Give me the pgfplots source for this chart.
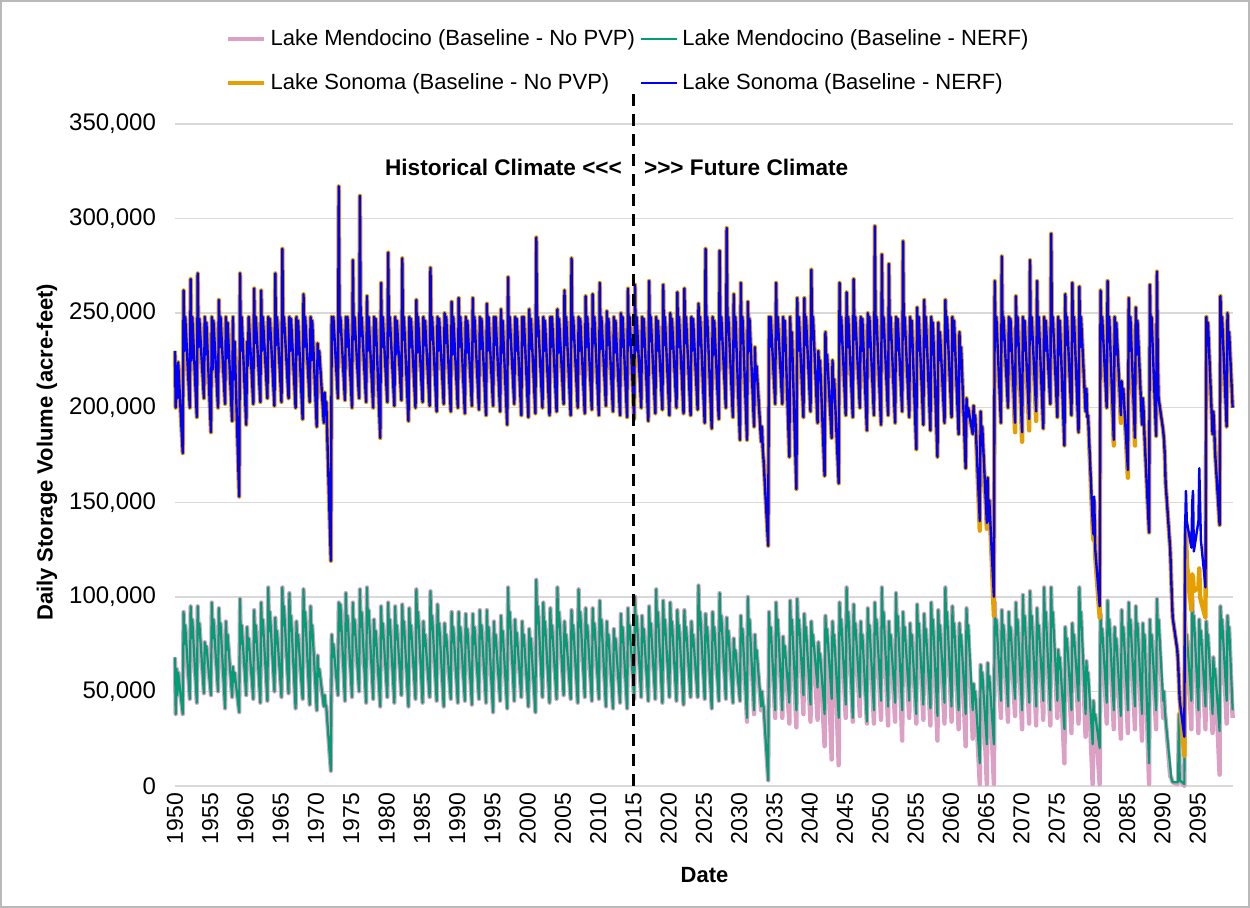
\documentclass[border=0pt]{standalone}
\usepackage{fontspec}
\setmainfont{Liberation Sans}
\usepackage{pgfplots}
\usepackage{pgfplotstable}
\pgfplotsset{compat=1.18}
\definecolor{mpink}{HTML}{DCA0C5}
\definecolor{mgreen}{HTML}{009E73}
\definecolor{sorange}{HTML}{E69F00}
\definecolor{sblue}{HTML}{0000FF}
\definecolor{gridgray}{HTML}{D9D9D9}
% values in thousands of acre-feet; t = decimal year
\pgfplotstableread{
t S0 S1 M0 M1
1950.00 230 230 68 68
1950.10 200 200 38 38
1950.22 222 222 62 62
1950.33 205 205 48 48
1950.45 224 224 60 60
1951.10 176 176 38 38
1951.22 262 262 92 92
1951.33 230 230 75 75
1951.45 248 248 85 85
1952.10 200 200 46 46
1952.22 268 268 95 95
1952.33 225 225 78 78
1952.45 248 248 88 88
1953.10 195 195 44 44
1953.22 271 271 95 95
1953.33 232 232 80 80
1953.45 247 247 86 86
1954.10 205 205 49 49
1954.22 248 248 76 76
1954.33 228 228 70 70
1954.45 245 245 74 74
1955.10 187 187 48 48
1955.22 248 248 97 97
1955.33 220 220 78 78
1955.45 246 246 88 88
1956.10 200 200 50 50
1956.22 257 257 94 94
1956.33 232 232 80 80
1956.45 248 248 86 86
1957.10 202 202 41 41
1957.22 248 248 87 87
1957.33 226 226 72 72
1957.45 245 245 80 80
1958.10 193 193 47 47
1958.22 248 248 63 63
1958.33 215 215 55 55
1958.45 235 235 60 60
1959.10 153 153 39 39
1959.22 271 271 99 99
1959.33 230 230 75 75
1959.45 248 248 85 85
1960.10 191 191 48 48
1960.22 235 235 84 84
1960.33 222 222 72 72
1960.45 248 248 78 78
1961.10 202 202 46 46
1961.22 263 263 93 93
1961.33 234 234 76 76
1961.45 248 248 85 85
1962.10 203 203 44 44
1962.22 262 262 97 97
1962.33 230 230 80 80
1962.45 248 248 88 88
1963.10 205 205 45 45
1963.22 248 248 105 105
1963.33 236 236 82 82
1963.45 247 247 92 92
1964.10 201 201 50 50
1964.22 271 271 89 89
1964.33 233 233 75 75
1964.45 248 248 82 82
1965.10 203 203 47 47
1965.22 284 284 105 105
1965.33 240 240 85 85
1965.45 248 248 95 95
1966.10 205 205 49 49
1966.22 248 248 102 102
1966.33 230 230 82 82
1966.45 247 247 90 90
1967.10 200 200 41 41
1967.22 248 248 87 87
1967.33 228 228 74 74
1967.45 246 246 80 80
1968.10 194 194 46 46
1968.22 260 260 104 104
1968.33 232 232 84 84
1968.45 248 248 92 92
1969.10 203 203 43 43
1969.22 248 248 95 95
1969.33 225 225 78 78
1969.45 246 246 85 85
1970.10 190 190 40 40
1970.22 234 234 69 69
1970.33 222 222 58 58
1970.45 230 230 62 62
1971.10 192 192 42 42
1971.22 208 208 48 48
1971.33 200 200 43 43
1971.45 203 203 42 42
1972.10 119 119 8 8
1972.22 248 248 80 80
1972.33 236 236 68 68
1972.45 248 248 75 75
1973.10 205 205 48 48
1973.22 317 317 97 97
1973.33 240 240 82 82
1973.45 248 248 96 96
1974.10 204 204 45 45
1974.22 248 248 102 102
1974.33 232 232 82 82
1974.45 248 248 90 90
1975.10 200 200 47 47
1975.22 278 278 97 97
1975.33 236 236 80 80
1975.45 248 248 88 88
1976.10 205 205 50 50
1976.22 312 312 104 104
1976.33 238 238 84 84
1976.45 248 248 92 92
1977.10 203 203 44 44
1977.22 259 259 105 105
1977.33 230 230 85 85
1977.45 248 248 93 93
1978.10 200 200 46 46
1978.22 248 248 88 88
1978.33 233 233 74 74
1978.45 247 247 82 82
1979.10 184 184 42 42
1979.22 266 266 95 95
1979.33 232 232 78 78
1979.45 248 248 86 86
1980.10 203 203 47 47
1980.22 282 282 97 97
1980.33 238 238 80 80
1980.45 248 248 88 88
1981.10 201 201 44 44
1981.22 248 248 95 95
1981.33 228 228 78 78
1981.45 246 246 85 85
1982.10 204 204 48 48
1982.22 279 279 96 96
1982.33 236 236 80 80
1982.45 248 248 87 87
1983.10 193 193 42 42
1983.22 248 248 94 94
1983.33 232 232 78 78
1983.45 247 247 85 85
1984.10 200 200 46 46
1984.22 257 257 104 104
1984.33 229 229 84 84
1984.45 248 248 92 92
1985.10 203 203 44 44
1985.22 248 248 87 87
1985.33 233 233 74 74
1985.45 246 246 80 80
1986.10 201 201 47 47
1986.22 274 274 103 103
1986.33 236 236 83 83
1986.45 248 248 90 90
1987.10 198 198 45 45
1987.22 248 248 96 96
1987.33 230 230 80 80
1987.45 247 247 86 86
1988.10 202 202 42 42
1988.22 250 250 86 86
1988.33 234 234 74 74
1988.45 248 248 80 80
1989.10 198 198 46 46
1989.22 256 256 92 92
1989.33 228 228 76 76
1989.45 248 248 84 84
1990.10 200 200 44 44
1990.22 258 258 92 92
1990.33 232 232 77 77
1990.45 248 248 84 84
1991.10 197 197 45 45
1991.22 248 248 91 91
1991.33 229 229 76 76
1991.45 246 246 83 83
1992.10 201 201 43 43
1992.22 258 258 91 91
1992.33 235 235 75 75
1992.45 248 248 84 84
1993.10 199 199 46 46
1993.22 248 248 93 93
1993.33 231 231 78 78
1993.45 247 247 85 85
1994.10 196 196 44 44
1994.22 255 255 93 93
1994.33 230 230 77 77
1994.45 248 248 84 84
1995.10 201 201 39 39
1995.22 248 248 87 87
1995.33 233 233 74 74
1995.45 248 248 80 80
1996.10 198 198 45 45
1996.22 252 252 90 90
1996.33 229 229 76 76
1996.45 246 246 82 82
1997.10 191 191 41 41
1997.22 269 269 105 105
1997.33 237 237 84 84
1997.45 248 248 92 92
1998.10 202 202 45 45
1998.22 248 248 88 88
1998.33 230 230 74 74
1998.45 247 247 81 81
1999.10 196 196 47 47
1999.22 248 248 87 87
1999.33 233 233 74 74
1999.45 248 248 80 80
2000.10 195 195 42 42
2000.22 252 252 83 83
2000.33 231 231 72 72
2000.45 247 247 78 78
2001.10 197 197 39 39
2001.22 290 290 109 109
2001.33 238 238 86 86
2001.45 248 248 95 95
2002.10 200 200 47 47
2002.22 248 248 97 97
2002.33 230 230 80 80
2002.45 246 246 87 87
2003.10 196 196 44 44
2003.22 248 248 94 94
2003.33 232 232 78 78
2003.45 248 248 85 85
2004.10 198 198 46 46
2004.22 252 252 105 105
2004.33 229 229 84 84
2004.45 247 247 92 92
2005.10 202 202 48 48
2005.22 262 262 87 87
2005.33 233 233 74 74
2005.45 248 248 80 80
2006.10 196 196 46 46
2006.22 279 279 93 93
2006.33 236 236 78 78
2006.45 248 248 85 85
2007.10 200 200 44 44
2007.22 248 248 104 104
2007.33 230 230 84 84
2007.45 247 247 92 92
2008.10 197 197 47 47
2008.22 259 259 94 94
2008.33 232 232 78 78
2008.45 248 248 85 85
2009.10 199 199 45 45
2009.22 260 260 94 94
2009.33 234 234 79 79
2009.45 248 248 86 86
2010.10 196 196 46 46
2010.22 266 266 98 98
2010.33 231 231 80 80
2010.45 248 248 88 88
2011.10 201 201 42 42
2011.22 251 251 87 87
2011.33 233 233 74 74
2011.45 247 247 80 80
2012.10 198 198 41 41
2012.22 248 248 83 83
2012.33 229 229 72 72
2012.45 246 246 78 78
2013.10 196 196 44 44
2013.22 250 250 91 91
2013.33 232 232 76 76
2013.45 248 248 84 84
2014.10 195 195 41 41
2014.22 263 263 94 94
2014.33 233 233 78 78
2014.45 248 248 85 85
2015.10 194 194 46 46
2015.22 265 265 100 100
2015.33 230 230 82 82
2015.45 248 248 90 90
2016.10 200 200 47 47
2016.22 248 248 90 90
2016.33 232 232 76 76
2016.45 247 247 83 83
2017.10 193 193 45 45
2017.22 267 267 95 95
2017.33 235 235 79 79
2017.45 248 248 86 86
2018.10 197 197 46 46
2018.22 248 248 104 104
2018.33 230 230 84 84
2018.45 246 246 92 92
2019.10 199 199 44 44
2019.22 265 265 98 98
2019.33 233 233 80 80
2019.45 248 248 88 88
2020.10 196 196 47 47
2020.22 250 250 97 97
2020.33 231 231 80 80
2020.45 247 247 87 87
2021.10 200 200 45 45
2021.22 261 261 93 93
2021.33 232 232 78 78
2021.45 248 248 85 85
2022.10 197 197 43 43
2022.22 263 263 93 93
2022.33 234 234 77 77
2022.45 248 248 84 84
2023.10 196 196 47 47
2023.22 248 248 87 87
2023.33 230 230 74 74
2023.45 247 247 80 80
2024.10 199 199 47 47
2024.22 255 255 106 106
2024.33 233 233 85 85
2024.45 248 248 92 92
2025.10 192 192 46 46
2025.22 284 284 91 91
2025.33 238 238 77 77
2025.45 248 248 84 84
2026.10 189 189 41 41
2026.22 248 248 92 92
2026.33 228 228 77 77
2026.45 246 246 84 84
2027.10 194 194 45 45
2027.22 283 283 102 102
2027.33 236 236 82 82
2027.45 248 248 90 90
2028.10 200 200 46 46
2028.22 295 295 89 89
2028.33 240 240 75 75
2028.45 248 248 82 82
2029.10 195 195 44 44
2029.22 260 260 78 78
2029.33 232 232 68 68
2029.45 248 248 72 72
2030.10 183 183 45 45
2030.22 266 266 90 90
2030.33 234 234 76 76
2030.45 248 248 83 83
2031.10 183 183 34 36
2031.22 256 256 100 100
2031.33 230 230 80 80
2031.45 247 247 88 88
2032.10 190 190 38 40
2032.22 232 232 80 80
2032.33 215 215 68 68
2032.45 222 222 72 72
2033.10 182 182 40 42
2033.22 190 190 50 50
2033.33 178 178 44 44
2033.45 172 172 42 42
2034.10 127 127 3 3
2034.22 248 248 92 92
2034.33 232 232 76 76
2034.45 248 248 84 84
2035.10 202 202 36 40
2035.22 266 266 97 97
2035.33 236 236 80 80
2035.45 248 248 88 88
2036.10 202 202 36 40
2036.22 248 248 79 79
2036.33 230 230 68 68
2036.45 246 246 74 74
2037.10 174 174 33 44
2037.22 248 248 98 98
2037.33 225 225 80 80
2037.45 240 240 88 88
2038.10 157 157 31 40
2038.22 258 258 99 99
2038.33 230 230 80 80
2038.45 248 248 88 88
2039.10 195 195 38 48
2039.22 258 258 91 91
2039.33 233 233 77 77
2039.45 248 248 84 84
2040.10 198 198 34 43
2040.22 273 273 87 87
2040.33 236 236 74 74
2040.45 248 248 80 80
2041.10 192 192 35 52
2041.22 230 230 76 76
2041.33 215 215 66 66
2041.45 225 225 70 70
2042.10 164 164 21 38
2042.22 240 240 90 90
2042.33 220 220 76 76
2042.45 228 228 83 83
2043.10 184 184 14 46
2043.22 225 225 87 87
2043.33 205 205 74 74
2043.45 215 215 80 80
2044.10 160 160 11 36
2044.22 266 266 97 97
2044.33 235 235 80 80
2044.45 248 248 88 88
2045.10 196 196 36 43
2045.22 261 261 105 105
2045.33 232 232 84 84
2045.45 248 248 92 92
2046.10 195 195 34 36
2046.22 268 268 96 96
2046.33 236 236 80 80
2046.45 248 248 86 86
2047.10 200 200 37 47
2047.22 248 248 87 87
2047.33 230 230 74 74
2047.45 247 247 80 80
2048.10 188 188 33 34
2048.22 250 250 94 94
2048.33 232 232 78 78
2048.45 248 248 85 85
2049.10 196 196 33 40
2049.22 296 296 97 97
2049.33 240 240 80 80
2049.45 248 248 88 88
2050.10 191 191 35 45
2050.22 281 281 105 105
2050.33 237 237 84 84
2050.45 248 248 92 92
2051.10 196 196 32 42
2051.22 276 276 87 87
2051.33 236 236 74 74
2051.45 248 248 80 80
2052.10 192 192 34 44
2052.22 248 248 102 102
2052.33 230 230 82 82
2052.45 247 247 90 90
2053.10 198 198 24 40
2053.22 288 288 92 92
2053.33 238 238 77 77
2053.45 248 248 84 84
2054.10 195 195 36 45
2054.22 248 248 86 86
2054.33 232 232 74 74
2054.45 246 246 80 80
2055.10 178 178 33 38
2055.22 253 253 96 96
2055.33 230 230 80 80
2055.45 248 248 86 86
2056.10 191 191 35 43
2056.22 257 257 91 91
2056.33 232 232 76 76
2056.45 248 248 83 83
2057.10 188 188 32 41
2057.22 248 248 97 97
2057.33 228 228 80 80
2057.45 245 245 88 88
2058.10 174 174 24 37
2058.22 245 245 93 93
2058.33 225 225 77 77
2058.45 240 240 85 85
2059.10 192 192 33 44
2059.22 257 257 105 105
2059.33 235 235 84 84
2059.45 248 248 92 92
2060.10 195 195 34 42
2060.22 248 248 95 95
2060.33 230 230 79 79
2060.45 246 246 86 86
2061.10 186 186 30 40
2061.22 240 240 86 86
2061.33 222 222 74 74
2061.45 232 232 80 80
2062.10 168 168 21 38
2062.22 205 205 94 94
2062.33 195 195 78 78
2062.45 200 200 85 85
2063.10 186 186 25 40
2063.22 201 201 54 54
2063.33 192 192 46 46
2063.45 196 196 50 50
2064.10 135 140 1 12
2064.22 198 198 64 64
2064.33 185 185 52 52
2064.45 190 190 60 60
2065.10 136 139 1 22
2065.22 163 163 65 65
2065.33 140 140 52 52
2065.45 151 151 58 58
2066.10 90 100 1 22
2066.22 267 267 97 97
2066.33 240 240 80 80
2066.45 248 248 88 88
2067.10 192 192 36 45
2067.22 280 280 93 93
2067.33 236 236 78 78
2067.45 248 248 85 85
2068.10 200 200 34 42
2068.22 248 248 92 92
2068.33 230 230 77 77
2068.45 247 247 84 84
2069.10 187 192 37 46
2069.22 259 259 97 97
2069.33 233 233 80 80
2069.45 248 248 88 88
2070.10 182 187 30 40
2070.22 248 248 101 101
2070.33 230 230 82 82
2070.45 246 246 90 90
2071.10 188 194 33 44
2071.22 278 278 103 103
2071.33 236 236 83 83
2071.45 248 248 90 90
2072.10 193 198 32 42
2072.22 267 267 94 94
2072.33 234 234 78 78
2072.45 248 248 85 85
2073.10 189 189 35 45
2073.22 248 248 105 105
2073.33 230 230 84 84
2073.45 246 246 92 92
2074.10 202 202 32 40
2074.22 292 292 105 105
2074.33 240 240 84 84
2074.45 248 248 92 92
2075.10 195 195 36 45
2075.22 248 248 72 72
2075.33 228 228 62 62
2075.45 246 246 68 68
2076.10 180 180 12 30
2076.22 260 260 84 84
2076.33 233 233 72 72
2076.45 248 248 78 78
2077.10 196 196 28 40
2077.22 266 266 86 86
2077.33 235 235 74 74
2077.45 248 248 80 80
2078.10 187 187 33 45
2078.22 264 264 105 105
2078.33 232 232 84 84
2078.45 248 248 92 92
2079.10 198 198 26 38
2079.22 210 210 66 66
2079.33 195 195 56 56
2079.45 196 196 60 60
2080.10 136 140 1 22
2080.22 130 133 45 45
2080.33 150 153 35 35
2080.45 122 126 38 38
2081.10 89 95 1 20
2081.22 262 262 91 91
2081.33 236 236 76 76
2081.45 248 248 83 83
2082.10 200 200 33 44
2082.22 267 267 98 98
2082.33 235 235 80 80
2082.45 248 248 88 88
2083.10 180 183 30 40
2083.22 248 248 84 84
2083.33 228 228 72 72
2083.45 245 245 78 78
2084.10 192 196 25 37
2084.22 214 214 93 93
2084.33 205 205 77 77
2084.45 210 210 84 84
2085.10 163 167 28 40
2085.22 258 258 97 97
2085.33 230 230 80 80
2085.45 248 248 88 88
2086.10 180 184 30 42
2086.22 253 253 95 95
2086.33 228 228 79 79
2086.45 246 246 86 86
2087.10 191 191 24 38
2087.22 205 205 86 86
2087.33 198 198 74 74
2087.45 185 185 80 80
2088.10 134 134 1 12
2088.22 265 265 88 88
2088.33 235 235 74 74
2088.45 248 248 80 80
2089.10 185 185 30 40
2089.22 272 272 99 99
2089.33 225 225 80 80
2089.45 205 205 88 88
2090.10 188 188 36 45
2090.22 183 183 50 50
2090.33 175 175 40 40
2090.45 160 160 35 35
2091.10 125 125 5 10
2091.22 112 112 5 5
2091.33 100 100 3 3
2091.45 89 89 2 2
2092.10 72 72 1 2
2092.22 65 65 2 2
2092.33 55 55 38 38
2092.45 45 45 3 3
2093.10 16 26 0 1
2093.22 120 137 86 86
2093.33 140 156 72 72
2093.45 118 140 80 80
2094.10 93 126 30 45
2094.22 112 150 100 100
2094.33 110 156 82 82
2094.45 103 124 90 90
2095.10 105 140 28 40
2095.22 115 168 88 88
2095.33 100 150 75 75
2095.45 98 130 82 82
2096.10 89 105 30 42
2096.22 248 248 87 87
2096.33 239 239 74 74
2096.45 245 245 80 80
2097.10 186 186 28 38
2097.22 198 198 68 68
2097.33 190 190 58 58
2097.45 177 177 62 62
2098.10 138 138 6 29
2098.22 259 259 95 95
2098.33 240 240 78 78
2098.45 248 248 88 88
2099.10 190 190 33 45
2099.22 250 250 90 90
2099.33 235 235 76 76
2099.45 240 240 84 84
2099.95 200 200 36 40
}\storage

\begin{document}
\begin{tikzpicture}[x=1pt,y=1pt]
\path[use as bounding box] (0,0) rectangle (625,454);
\draw[gray!55, line width=0.8pt] (0.6,0.6) rectangle (624.4,453.4);
\begin{axis}[
  at={(87.5pt,61pt)}, anchor=south west,
  scale only axis, width=529pt, height=331pt,
  xmin=1950, xmax=2100, ymin=0, ymax=350,
  clip=false,
  axis line style={draw=none},
  tick style={draw=none},
  ymajorgrids, grid style={gridgray, line width=0.75pt},
  ytick={0,50,100,150,200,250,300,350},
  yticklabels={0,{50,000},{100,000},{150,000},{200,000},{250,000},{300,000},{350,000}},
  yticklabel style={font=\fontsize{12}{14}\selectfont, xshift=-6pt},
  xtick={1950,1955,...,2095},
  xticklabel style={font=\fontsize{11.5}{13}\selectfont, rotate=90, anchor=east,
     /pgf/number format/1000 sep={}, /pgf/number format/assume math mode=true},
  xlabel={Date},
  xlabel style={font=\bfseries\fontsize{11}{13}\selectfont, at={(axis description cs:0.5005,-0.1345)}, anchor=center},
  ylabel={Daily Storage Volume (acre-feet)},
  ylabel style={font=\bfseries\fontsize{11}{13}\selectfont, at={(axis description cs:-0.121,0.504)}, anchor=center},
  legend columns=2,
  legend cell align=left,
  legend style={draw=none, fill=none, inner sep=0pt,
     at={(axis description cs:0.048,1.149)}, anchor=north west,
     font=\fontsize{11}{13}\selectfont, row sep=8.5pt,
     /tikz/every even column/.append style={column sep=0.5pt}},
  legend image code/.code={\draw[#1] (0pt,0pt) -- (18pt,0pt);},
]
\addplot[mpink, line width=2.2pt, line join=round] table[x=t,y=M0]{\storage};
\addlegendentry{Lake Mendocino (Baseline - No PVP)}
\addplot[mgreen, line width=1.1pt, line join=round] table[x=t,y=M1]{\storage};
\addlegendentry{Lake Mendocino (Baseline - NERF)}
\addplot[sorange, line width=2.2pt, line join=round] table[x=t,y=S0]{\storage};
\addlegendentry{Lake Sonoma (Baseline - No PVP)}
\addplot[sblue, line width=1.2pt, line join=round] table[x=t,y=S1]{\storage};
\addlegendentry{Lake Sonoma (Baseline - NERF)}
\addplot[black, line width=1.1pt, dash pattern=on 6pt off 4pt, forget plot] coordinates {(2015,0) (2015,367)};
\node[anchor=east, font=\bfseries\fontsize{11.3}{13}\selectfont] at (axis description cs:0.4291,0.935) {Historical Climate <\kern0pt<\kern0pt<};
\node[anchor=west, font=\bfseries\fontsize{11.3}{13}\selectfont] at (axis description cs:0.4367,0.935) {>\kern0pt>\kern0pt> Future Climate};
\end{axis}
\end{tikzpicture}
\end{document}
